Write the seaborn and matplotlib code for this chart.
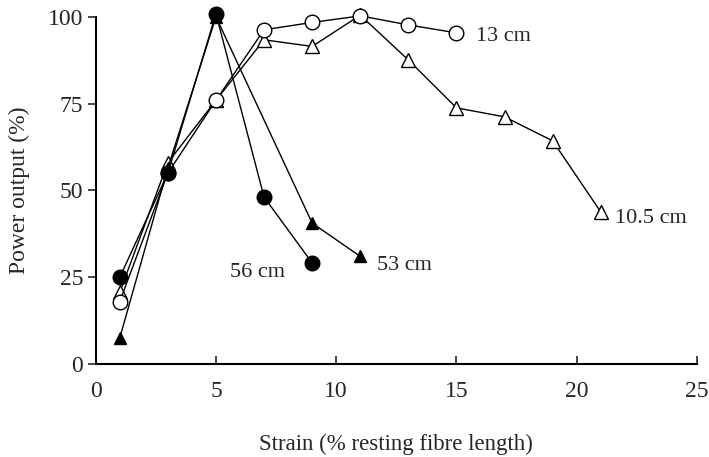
import matplotlib
matplotlib.use("Agg")
import matplotlib.pyplot as plt
import seaborn as sns
import pandas as pd

sns.set_theme(style="ticks")
plt.rcParams['font.family'] = ['Liberation Serif', 'DejaVu Serif']

# Data
x_13 = [1, 3, 5, 7, 9, 11, 13, 15]
y_13 = [18, 55, 76, 96.3, 98.4, 100.3, 97.7, 95.4]

x_105 = [1, 3, 5, 7, 9, 11, 13, 15, 17, 19, 21]
y_105 = [20.7, 58, 76, 93.4, 91.5, 100.5, 87.6, 73.8, 71.2, 64.3, 43.8]

x_53 = [1, 3, 5, 9, 11]
y_53 = [7.5, 56.5, 100, 40.6, 31]

x_56 = [1, 3, 5, 7, 9]
y_56 = [25, 55, 100.9, 48.1, 29.1]

labels = ["13 cm", "10.5 cm", "53 cm", "56 cm"]
label_pos = [(15.8, 94.3), (21.6, 42), (11.7, 28.5), (5.6, 26.5)]

xticks = [0, 5, 10, 15, 20, 25]
yticks = [0, 25, 50, 75, 100]

fig = plt.figure(figsize=(7.09, 4.57), dpi=100)
ax = fig.add_axes([0.135, 0.2035, 0.848, 0.7595])

series = [
    (x_105, y_105, '^', 'white', 9.5),
    (x_13, y_13, 'o', 'white', 10.5),
    (x_53, y_53, '^', 'black', 9),
    (x_56, y_56, 'o', 'black', 10.5),
]
for xs, ys, mk, fc, ms in series:
    df = pd.DataFrame({"x": xs, "y": ys})
    sns.lineplot(data=df, x="x", y="y", ax=ax, color="black", linewidth=1.0,
                 marker=mk, markersize=ms, markerfacecolor=fc,
                 markeredgecolor="black", markeredgewidth=1.0,
                 clip_on=False, sort=False)

for lab, (lx, ly) in zip(labels, label_pos):
    ax.text(lx, ly, lab, fontsize=16, va="center", ha="left")

ax.set_xlim(0, 25)
ax.set_ylim(0, 100)
ax.set_xticks(xticks)
ax.set_yticks(yticks)
ax.tick_params(axis='x', direction='in', length=6, width=1.2, labelsize=17, pad=12)
ax.tick_params(axis='y', direction='out', length=6, width=1.2, labelsize=17, pad=3)
for s in ['top', 'right']:
    ax.spines[s].set_visible(False)
for s in ['left', 'bottom']:
    ax.spines[s].set_linewidth(1.5)
    ax.spines[s].set_color('black')

ax.set_xlabel("Strain (% resting fibre length)", fontsize=16.5, labelpad=23)
ax.set_ylabel("Power output (%)", fontsize=17, labelpad=13)

fig.savefig("out.png", dpi=100)
